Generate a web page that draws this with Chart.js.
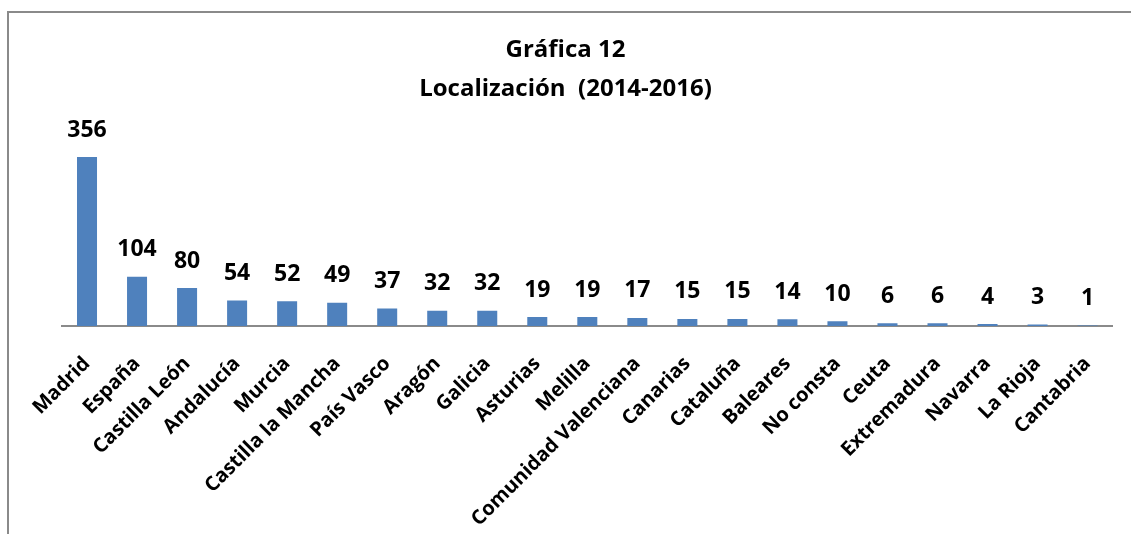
<!DOCTYPE html>
<html>
<head>
<meta charset="utf-8">
<script src="https://cdn.jsdelivr.net/npm/chart.js@4.4.1/dist/chart.umd.min.js"></script>
<style>
  html, body { margin: 0; padding: 0; background: #ffffff; }
  #wrap { position: relative; width: 1131px; height: 534px; overflow: hidden; }
  #frame { position: absolute; left: 7px; top: 11px; width: 1140px; height: 600px;
           border-left: 2px solid #8a8a8a; border-top: 2px solid #8a8a8a; }
  #c { position: absolute; left: 0; top: 0; }
</style>
</head>
<body>
<div id="wrap">
  <div id="frame"></div>
  <canvas id="c" width="1131" height="534"></canvas>
</div>
<script>
const titleLines = ["Gráfica 12", "Localización  (2014-2016)"];
const categories = ["Madrid", "España", "Castilla León", "Andalucía", "Murcia",
  "Castilla la Mancha", "País Vasco", "Aragón", "Galicia", "Asturias", "Melilla",
  "Comunidad Valenciana", "Canarias", "Cataluña", "Baleares", "No consta", "Ceuta",
  "Extremadura", "Navarra", "La Rioja", "Cantabria"];
const values = [356, 104, 80, 54, 52, 49, 37, 32, 32, 19, 19, 17, 15, 15, 14, 10, 6, 6, 4, 3, 1];
const yMin = 0;
const yMax = 400;

const FONT = "'Open Sans', 'DejaVu Sans', sans-serif";

const valueLabels = {
  id: 'valueLabels',
  afterDatasetsDraw(chart) {
    const ctx = chart.ctx;
    const meta = chart.getDatasetMeta(0);
    ctx.save();
    ctx.font = "bold 23px " + FONT;
    ctx.fillStyle = "#000000";
    ctx.textAlign = "center";
    ctx.textBaseline = "middle";
    meta.data.forEach((bar, i) => {
      ctx.fillText(String(values[i]), bar.x, bar.y - 27);
    });
    ctx.restore();
  }
};

new Chart(document.getElementById('c'), {
  type: 'bar',
  data: {
    labels: categories,
    datasets: [{
      data: values,
      backgroundColor: '#4F81BD',
      borderWidth: 0,
      categoryPercentage: 1.0,
      barPercentage: 0.4
    }]
  },
  options: {
    responsive: false,
    animation: false,
    devicePixelRatio: 1,
    layout: { padding: { left: 0, right: 0, top: 0, bottom: 0 } },
    plugins: {
      legend: { display: false },
      tooltip: { enabled: false },
      title: {
        display: true,
        text: titleLines,
        color: '#000000',
        font: { family: FONT, size: 24, weight: 'bold', lineHeight: 1.65 },
        padding: { top: 30, bottom: 27 }
      }
    },
    scales: {
      x: {
        grid: { display: false, drawTicks: false },
        border: { display: true, color: '#8a8a8a', width: 2 },
        ticks: {
          color: '#000000',
          font: { family: FONT, size: 20, weight: 'bold' },
          minRotation: 45,
          maxRotation: 45,
          autoSkip: false,
          padding: 26
        },
        afterFit(scale) { scale.height = 208; }
      },
      y: {
        position: 'left',
        min: yMin,
        max: yMax,
        display: true,
        grid: { display: false, drawTicks: false },
        border: { display: false },
        ticks: { display: false },
        afterFit(scale) { scale.width = 62; }
      },
      yRight: {
        position: 'right',
        min: yMin,
        max: yMax,
        display: true,
        grid: { display: false, drawTicks: false },
        border: { display: false },
        ticks: { display: false },
        afterFit(scale) { scale.width = 18; }
      }
    }
  },
  plugins: [valueLabels]
});
</script>
</body>
</html>
